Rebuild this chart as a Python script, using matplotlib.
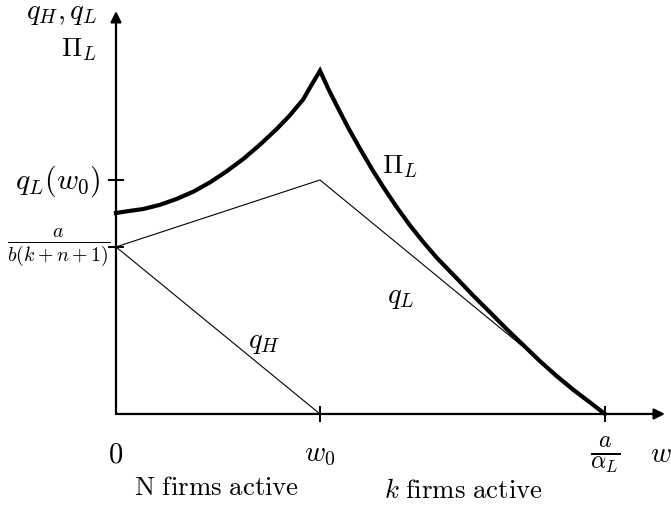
import matplotlib
matplotlib.use("Agg")
import matplotlib.pyplot as plt

plt.rcParams['mathtext.fontset'] = 'cm'
plt.rcParams['font.family'] = 'serif'
plt.rcParams['font.serif'] = ['DejaVu Serif']

# wage axis: 0, w0, a/alpha_L
w0 = 1.0
w_max = 2.397
a_over_b = 0.714   # a / b(k+n+1)
qL_w0 = 1.0

# q_L and q_H (piecewise linear)
qL_w = [0.0, w0, w_max]
qL_vals = [a_over_b, qL_w0, 0.0]
qH_w = [0.0, w0]
qH_vals = [a_over_b, 0.0]

# Pi_L
pi_w = [0.0, 0.052, 0.134, 0.216, 0.297, 0.379, 0.461, 0.542, 0.624, 0.706,
        0.788, 0.853, 0.918, 0.951, 1.0,
        1.041, 1.082, 1.139, 1.196, 1.253, 1.310, 1.376, 1.441, 1.506, 1.572,
        1.670, 1.751, 1.833, 1.915, 1.997, 2.078, 2.160, 2.242, 2.324, 2.397]
pi_vals = [0.859, 0.866, 0.876, 0.894, 0.919, 0.950, 0.990, 1.037, 1.090, 1.151,
           1.218, 1.277, 1.345, 1.395, 1.467,
           1.389, 1.318, 1.222, 1.134, 1.049, 0.970, 0.884, 0.806, 0.735, 0.668,
           0.580, 0.506, 0.435, 0.363, 0.294, 0.226, 0.162, 0.103, 0.049, 0.0]

fig = plt.figure(figsize=(6.71, 5.06), dpi=100)
ax = fig.add_axes([0, 0, 1, 1])
ax.set_xlim(-0.5686, 2.7206)
ax.set_ylim(-0.389, 1.7735)

for s in ax.spines.values():
    s.set_visible(False)

# axes with arrows
arrow = dict(arrowstyle='-|>', lw=1.6, color='black', mutation_scale=16,
             shrinkA=0, shrinkB=0)
ax.annotate('', xy=(0, 1.722), xytext=(0, 0), arrowprops=arrow)
ax.annotate('', xy=(2.691, 0), xytext=(0, 0), arrowprops=arrow)

ax.plot(qL_w, qL_vals, color='black', lw=0.8)
ax.plot(qH_w, qH_vals, color='black', lw=0.8)
ax.plot(pi_w, pi_vals, color='black', lw=3.0, solid_joinstyle='miter')

# tick marks
ax.set_xticks([w0, w_max])
ax.set_yticks([a_over_b, qL_w0])
ax.set_xticklabels([])
ax.set_yticklabels([])
ax.tick_params(direction='inout', length=11, width=1.4, color='black')
ax.xaxis.set_ticks_position('bottom')
ax.yaxis.set_ticks_position('left')
ax.spines['left'].set_position(('data', 0))
ax.spines['bottom'].set_position(('data', 0))

fs = 20.5
ax.text(-0.093, 1.714, r'$q_H, q_L$', ha='right', va='center', fontsize=fs)
ax.text(-0.093, 1.560, r'$\Pi_L$', ha='right', va='center', fontsize=fs - 1)
ax.text(-0.078, qL_w0, r'$q_L(w_0)$', ha='right', va='center', fontsize=fs + 1)
ax.text(-0.029, a_over_b, r'$\frac{a}{b(k+n+1)}$', ha='right', va='center', fontsize=fs)

ax.text(0.0, -0.171, r'$0$', ha='center', va='center', fontsize=fs)
ax.text(w0, -0.171, r'$w_0$', ha='center', va='center', fontsize=fs)
ax.text(w_max, -0.171, r'$\frac{a}{\alpha_L}$', ha='center', va='center', fontsize=fs + 4)
ax.text(2.618, -0.171, r'$w$', ha='left', va='center', fontsize=fs)

ax.text(1.304, 1.060, r'$\Pi_L$', ha='left', va='center', fontsize=fs - 1)
ax.text(1.328, 0.5, r'$q_L$', ha='left', va='center', fontsize=fs)
ax.text(0.647, 0.308, r'$q_H$', ha='left', va='center', fontsize=fs)

ax.text(0.495, -0.312, r'$\mathrm{N\ firms\ active}$', ha='center', va='center', fontsize=19.3)
ax.text(1.701, -0.321, r'$k\ \mathrm{firms\ active}$', ha='center', va='center', fontsize=19.3)

fig.savefig('out.png', dpi=100)
